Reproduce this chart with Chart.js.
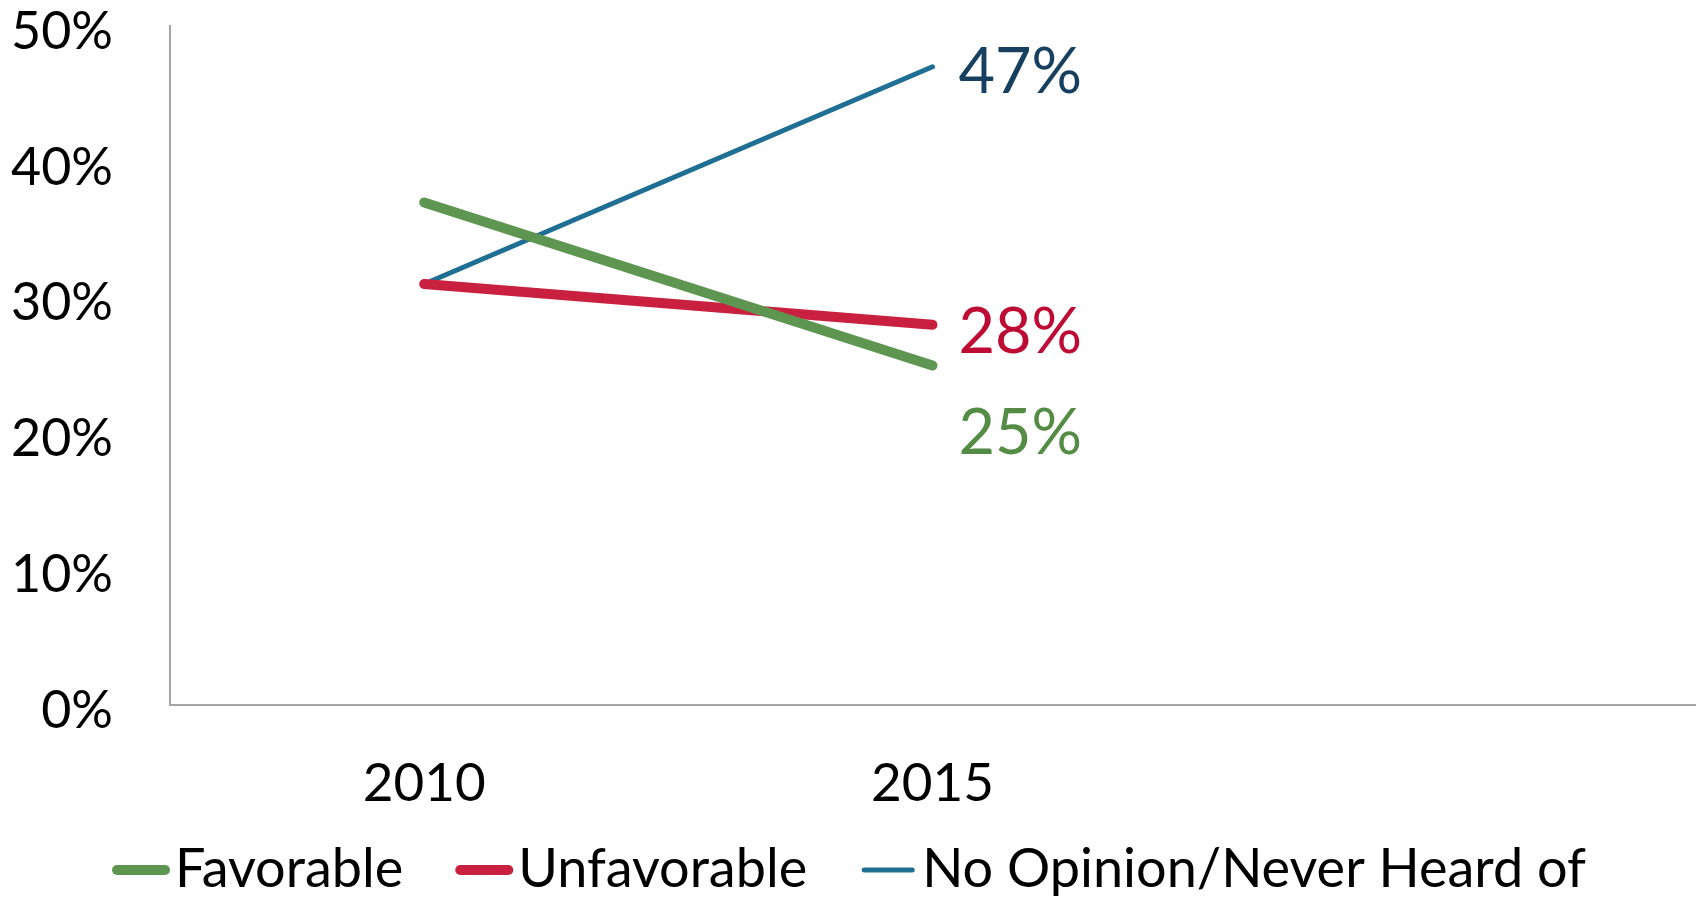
<!DOCTYPE html>
<html>
<head>
<meta charset="utf-8">
<script src="https://cdn.jsdelivr.net/npm/chart.js@4.4.1/dist/chart.umd.min.js"></script>
<style>
  html, body { margin: 0; padding: 0; background: #fff; }
  #wrap { width: 1698px; height: 900px; }
</style>
</head>
<body>
<div id="wrap"><canvas id="chart"></canvas></div>
<script>
// data
var years = ["2010", "2015", ""];
var favorable = [37, 25];
var unfavorable = [31, 28];
var noOpinion = [31, 47];
var seriesNames = ["Favorable", "Unfavorable", "No Opinion/Never Heard of"];
var yTicks = [0, 10, 20, 30, 40, 50];

var FONT = "Lato, 'Open Sans', sans-serif";

// label on the last point of each line
var endLabels = {
    id: "endLabels",
    afterDatasetsDraw: function(chart){
        var ctx = chart.ctx;
        var colors = ["#548B45", "#BE0B33", "#173F5F"];
        var shift = [68, 8, 6];
        ctx.save();
        ctx.font = "63px " + FONT;
        ctx.textAlign = "left";
        ctx.textBaseline = "middle";
        chart.data.datasets.forEach(function(ds, i){
            var pts = chart.getDatasetMeta(i).data;
            var last = pts[ds.data.length - 1];
            ctx.fillStyle = colors[i];
            ctx.fillText(ds.data[ds.data.length - 1] + "%", last.x + 26, last.y + shift[i]);
        });
        ctx.restore();
    }
};

// legend along the bottom
var bottomLegend = {
    id: "bottomLegend",
    afterDraw: function(chart){
        var ctx = chart.ctx;
        var lineW = 58, gapText = 5, gapItem = 52, y = 870;
        ctx.save();
        ctx.font = "54px " + FONT;
        ctx.textBaseline = "middle";
        var total = 0;
        chart.data.datasets.forEach(function(ds, i){
            total += lineW + gapText + ctx.measureText(ds.label).width;
            if(i < chart.data.datasets.length - 1) total += gapItem;
        });
        var x = (chart.width - total) / 2;
        chart.data.datasets.forEach(function(ds){
            ctx.strokeStyle = ds.borderColor;
            ctx.lineWidth = ds.borderWidth;
            ctx.lineCap = "round";
            ctx.beginPath();
            ctx.moveTo(x + 5, y);
            ctx.lineTo(x + lineW - 5, y);
            ctx.stroke();
            x += lineW + gapText;
            ctx.fillStyle = "#000";
            ctx.fillText(ds.label, x, y);
            x += ctx.measureText(ds.label).width + gapItem;
        });
        ctx.restore();
    }
};

new Chart(document.getElementById("chart"), {
    type: 'line',
    data: {
        labels: years,
        datasets: [
            { label: seriesNames[0], data: favorable, borderColor: "#5E9651", borderWidth: 10 },
            { label: seriesNames[1], data: unfavorable, borderColor: "#C8203E", borderWidth: 10 },
            { label: seriesNames[2], data: noOpinion, borderColor: "#1F6E93", borderWidth: 5 }
        ]
    },
    options: {
        responsive: true,
        maintainAspectRatio: false,
        animation: false,
        layout: { padding: { top: 26, left: 0, right: 3, bottom: 85 } },
        elements: {
            line: { tension: 0, borderCapStyle: 'round', borderJoinStyle: 'round', fill: false },
            point: { radius: 0, hoverRadius: 0 }
        },
        plugins: {
            legend: { display: false },
            tooltip: { enabled: false }
        },
        scales: {
            x: {
                offset: true,
                grid: { display: false, drawTicks: false },
                border: { display: true, color: "#A6A6A6", width: 2 },
                ticks: { color: "#000", font: { family: FONT, size: 53, lineHeight: 1 }, padding: 52, maxRotation: 0 },
                afterFit: function(s){ s.height = 110; s.paddingLeft = 0; s.paddingRight = 0; }
            },
            y: {
                min: 0,
                max: 50,
                afterBuildTicks: function(s){ s.ticks = yTicks.map(function(v){ return { value: v }; }); },
                grid: { display: false, drawTicks: false },
                border: { display: true, color: "#A6A6A6", width: 2 },
                ticks: {
                    color: "#000",
                    font: { family: FONT, size: 52, lineHeight: 1 },
                    padding: 57,
                    labelOffset: 6,
                    callback: function(v){ return v + "%"; }
                },
                afterFit: function(s){ s.width = 170; s.paddingTop = 0; s.paddingBottom = 0; }
            }
        }
    },
    plugins: [endLabels, bottomLegend]
});
</script>
</body>
</html>
